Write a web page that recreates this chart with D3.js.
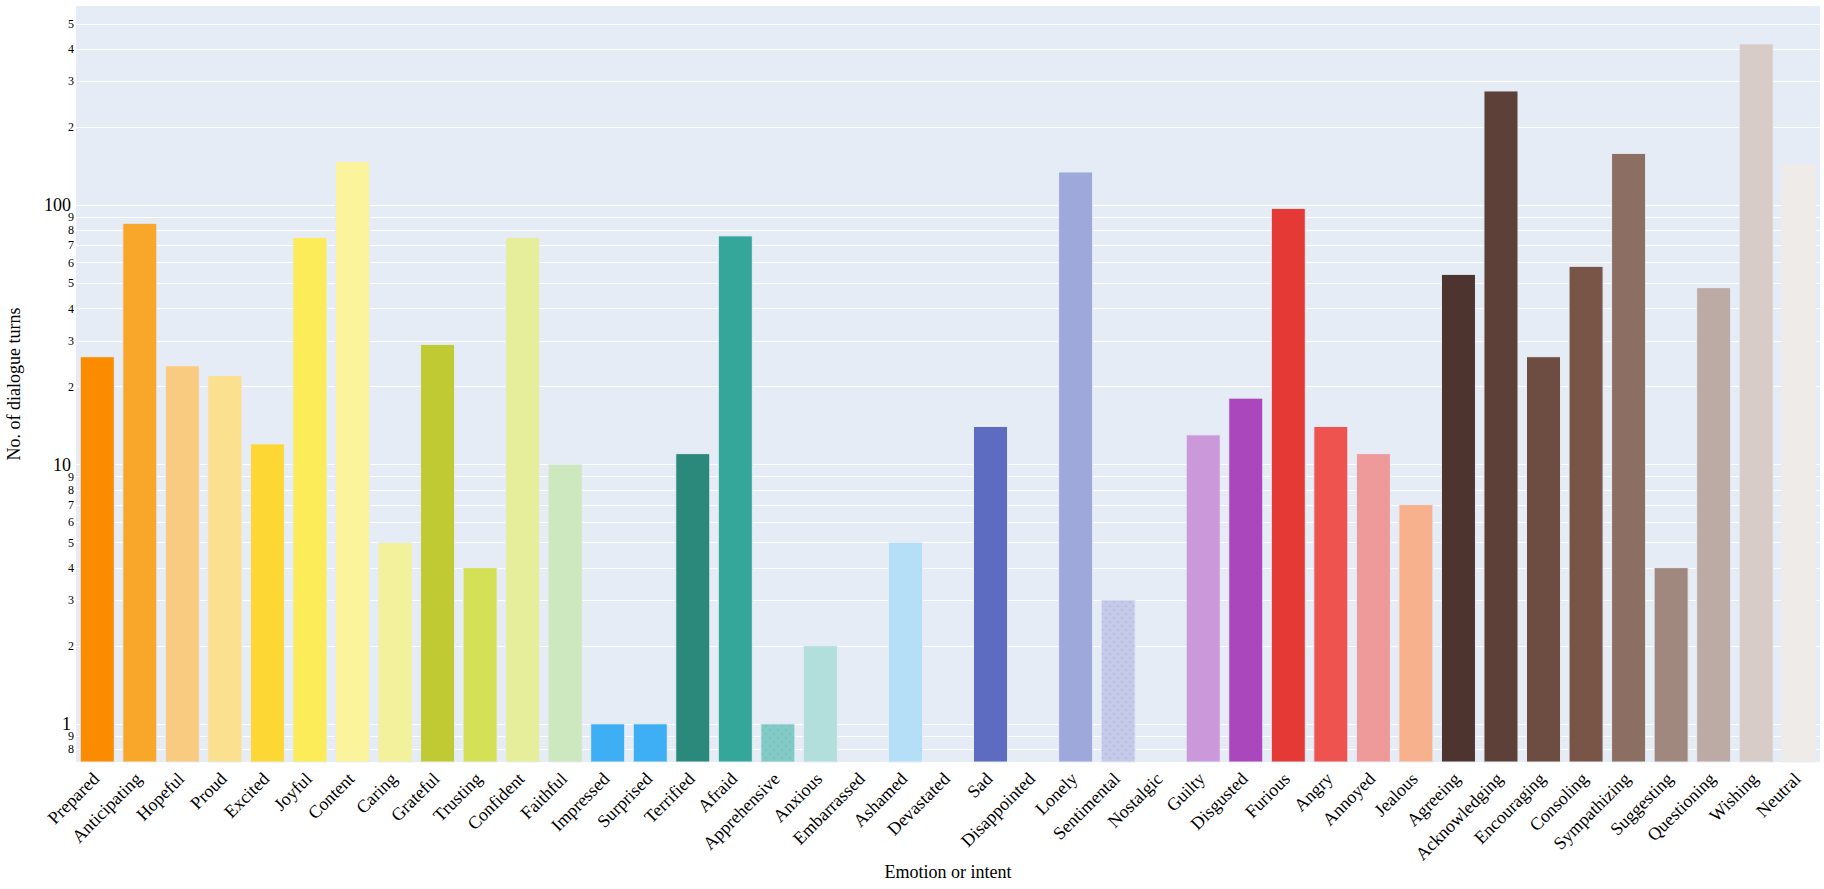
<!DOCTYPE html>
<html>
<head>
<meta charset="utf-8">
<script src="https://cdn.jsdelivr.net/npm/d3@7"></script>
<style>
  html, body { margin: 0; padding: 0; background: #fff; }
  svg { display: block; }
  text { font-family: "Liberation Serif", "Times New Roman", serif; fill: #000; }
</style>
</head>
<body>
<svg id="chart" width="1824" height="889"></svg>
<script>
// ---- data ----
const categories = ["Prepared","Anticipating","Hopeful","Proud","Excited","Joyful","Content","Caring","Grateful","Trusting","Confident","Faithful","Impressed","Surprised","Terrified","Afraid","Apprehensive","Anxious","Embarrassed","Ashamed","Devastated","Sad","Disappointed","Lonely","Sentimental","Nostalgic","Guilty","Disgusted","Furious","Angry","Annoyed","Jealous","Agreeing","Acknowledging","Encouraging","Consoling","Sympathizing","Suggesting","Questioning","Wishing","Neutral"];
const turns = [26,85,24,22,12,75,147,5,29,4,75,10,1,1,11,76,1,2,0,5,0,14,0,134,3,0,13,18,97,14,11,7,54,275,26,58,158,4,48,418,144];
const barColors = ["#FB8C00","#F9A72B","#F9CB80","#FBE090","#FDD835","#FCEC5A","#FCF49C","#F3F19A","#C0CA33","#D4E157","#E6EE9C","#CDE7BF","#3EAFF5","#3EAFF5","#2A897B","#34A69A","#82CAC3","#B2DFDB","#B4DFF6","#B4DFF6","#5D6BC0","#5D6BC0","#9FA8DA","#9FA8DA","#C5CAE9","#C5CAE9","#CB99D9","#AB47BC","#E53935","#EF5350","#EF9A9A","#F7B28D","#4E342E","#5D4037","#6D4C41","#795548","#8D6E63","#A1887F","#BCAAA4","#D7CCC8","#EFEBE9"];
const dottedBars = {"Caring":"#e6ecc0","Apprehensive":"#4FA9D9","Sentimental":"#8E97C9"};
const yTickValues = [0.8,0.9,1,2,3,4,5,6,7,8,9,10,20,30,40,50,60,70,80,90,100,200,300,400,500];
const yTickLabels = ["8","9","1","2","3","4","5","6","7","8","9","10","2","3","4","5","6","7","8","9","100","2","3","4","5"];
const yMajor = [1,10,100];
const xTitle = "Emotion or intent";
const yTitle = "No. of dialogue turns";

// ---- layout ----
const W = 1824, H = 889;
const plot = {left: 76, right: 1820, top: 6, bottom: 762};
const svg = d3.select("#chart");

const x = d3.scaleBand().domain(categories).range([plot.left, plot.right]).paddingInner(0.2).paddingOuter(0.1);
const y = d3.scaleLog().domain([0.7126, 584.5]).range([plot.bottom, plot.top]);

svg.append("rect").attr("x", plot.left).attr("y", plot.top)
  .attr("width", plot.right - plot.left).attr("height", plot.bottom - plot.top)
  .attr("fill", "#E5ECF6");

// gridlines
svg.append("g").selectAll("line").data(yTickValues).join("line")
  .attr("x1", plot.left).attr("x2", plot.right)
  .attr("y1", d => Math.round(y(d)) + 0.5).attr("y2", d => Math.round(y(d)) + 0.5)
  .attr("stroke", "#fff").attr("stroke-width", 1);

// patterns
const defs = svg.append("defs");
categories.forEach((c, i) => {
  if (dottedBars[c]) {
    const p = defs.append("pattern").attr("id", "pat" + i).attr("patternUnits", "userSpaceOnUse")
      .attr("width", 8).attr("height", 8);
    p.append("rect").attr("width", 8).attr("height", 8).attr("fill", barColors[i]);
    p.append("circle").attr("cx", 2).attr("cy", 2).attr("r", 0.6).attr("fill", dottedBars[c]);
    p.append("circle").attr("cx", 6).attr("cy", 6).attr("r", 0.6).attr("fill", dottedBars[c]);
  }
});

// bars
const rows = categories.map((c, i) => ({c, v: turns[i], col: barColors[i], i})).filter(d => d.v > 0);
svg.append("g").selectAll("rect").data(rows).join("rect")
  .attr("x", d => x(d.c)).attr("width", x.bandwidth())
  .attr("y", d => y(d.v)).attr("height", d => plot.bottom - y(d.v))
  .attr("fill", d => dottedBars[d.c] ? `url(#pat${d.i})` : d.col)
  .attr("stroke", "#E5ECF6").attr("stroke-width", 1);

// y axis labels
const yAxis = d3.axisLeft(y).tickValues(yTickValues).tickSize(0)
  .tickFormat((d, i) => yTickLabels[i]);
const gy = svg.append("g").attr("transform", `translate(${plot.left},0)`).call(yAxis);
gy.select(".domain").remove();
gy.selectAll(".tick text")
  .attr("x", d => yMajor.includes(d) ? -5 : -2)
  .style("font-family", '"Liberation Serif", serif')
  .style("font-size", d => yMajor.includes(d) ? "18px" : "12px")
  .attr("fill", "#000");

// x axis labels
const xAxis = d3.axisBottom(x).tickSize(0);
const gx = svg.append("g").attr("transform", `translate(0,${plot.bottom})`).call(xAxis);
gx.select(".domain").remove();
gx.selectAll(".tick text")
  .attr("text-anchor", "end")
  .attr("x", 0).attr("y", 0).attr("dy", 0)
  .attr("transform", "translate(3,18) rotate(-45)")
  .style("font-family", '"Liberation Serif", serif')
  .style("font-size", "18px")
  .attr("fill", "#000");

// titles
svg.append("text").attr("x", (plot.left + plot.right) / 2).attr("y", 878)
  .attr("text-anchor", "middle").style("font-size", "18px").text(xTitle);
svg.append("text").attr("transform", `translate(20,${(plot.top + plot.bottom) / 2}) rotate(-90)`)
  .attr("text-anchor", "middle").style("font-size", "18px").text(yTitle);
</script>
</body>
</html>
